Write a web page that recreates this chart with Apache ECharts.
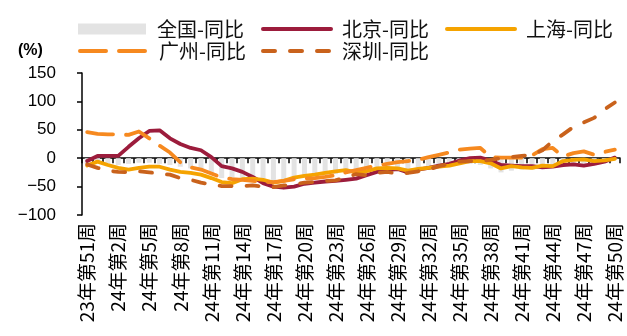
<!DOCTYPE html>
<html>
<head>
<meta charset="utf-8">
<script src="https://cdn.jsdelivr.net/npm/echarts@6/dist/echarts.min.js"></script>
<style>
  html, body { margin: 0; padding: 0; background: #fff; }
  #chart { width: 627px; height: 336px; }
</style>
</head>
<body>
<div id="chart"></div>
<script>
// Weekly categories
const weeks = [
  '23年第51周', '23年第52周', '24年第1周', '24年第2周', '24年第3周', '24年第4周',
  '24年第5周', '24年第6周', '24年第7周', '24年第8周', '24年第9周', '24年第10周',
  '24年第11周', '24年第12周', '24年第13周', '24年第14周', '24年第15周', '24年第16周',
  '24年第17周', '24年第18周', '24年第19周', '24年第20周', '24年第21周', '24年第22周',
  '24年第23周', '24年第24周', '24年第25周', '24年第26周', '24年第27周', '24年第28周',
  '24年第29周', '24年第30周', '24年第31周', '24年第32周', '24年第33周', '24年第34周',
  '24年第35周', '24年第36周', '24年第37周', '24年第38周', '24年第39周', '24年第40周',
  '24年第41周', '24年第42周', '24年第43周', '24年第44周', '24年第45周', '24年第46周',
  '24年第47周', '24年第48周', '24年第49周', '24年第50周'
];

// Year-on-year change, %
const national = [-10, -8, -10, -12, -10, -8, -8, -10, -12, -15,
  -18, -22, -28, -35, -40, -40, -38, -40, -45, -42,
  -38, -35, -32, -30, -28, -26, -25, -25, -22, -20,
  -22, -24, -22, -20, -18, -16, -12, -10, -12, -18,
  -25, -22, -20, -20, -18, -17, -12, -10, -9, -9,
  -7, -3];
const beijing = [-5, 4, 4, 4, 20, 35, 48, 49, 35, 25,
  18, 14, 2, -14, -18, -24, -33, -44, -50, -52,
  -50, -45, -43, -41, -40, -38, -36, -30, -24, -21,
  -19, -25, -20, -17, -13, -10, -4, 0, 1, -4,
  -12, -13, -14, -14, -16, -15, -12, -11, -13, -10,
  -6, 1];
const shanghai = [-13, -6, -12, -17, -20, -17, -15, -15, -20, -24,
  -26, -29, -35, -42, -44, -37, -36, -38, -43, -40,
  -34, -31, -29, -26, -23, -21, -25, -23, -18, -17,
  -18, -22, -19, -17, -15, -13, -9, -5, -5, -9,
  -18, -14, -16, -17, -13, -14, -5, -3, -2, -5,
  -4, -1];
const guangzhou = [46, 43, 42, 42, 41, 47, 35, 22, 10, -7,
  -16, -20, -27, -34, -37, -38, -40, -42, -42, -40,
  -37, -36, -35, -33, -30, -25, -21, -17, -13, -10,
  -7, -5, -3, 2, 6, 10, 15, 17, 18, 2,
  1, 1, 1, 5, 16, 18, 3, 9, 12, 6,
  11, 15];
const shenzhen = [-11, -17, -22, -24, -25, -23, -25, -27, -29, -35,
  -38, -43, -46, -49, -49, -49, -48, -50, -51, -48,
  -46, -43, -42, -40, -39, -34, -28, -30, -26, -24,
  -27, -26, -23, -20, -14, -10, -6, -5, -5, -3,
  0, 2, 4, 6, 14, 30, 42, 55, 63, 71,
  86, 98];

const yTicks = { min: -100, max: 150, step: 50 };

const names = ['全国-同比', '北京-同比', '上海-同比', '广州-同比', '深圳-同比'];
const colors = ['#e3e3e3', '#9c1c3c', '#f5a300', '#f6891f', '#c9621c'];

const chart = echarts.init(document.getElementById('chart'), null, { renderer: 'canvas' });

const cjk = 'Noto Sans CJK SC';
const latin = 'Liberation Sans';

const legendBase = {
  itemWidth: 68,
  itemHeight: 11,
  itemGap: 0,
  padding: 0,
  selectedMode: false,
  textStyle: { fontSize: 20, color: '#111', fontFamily: cjk, padding: [0, 0, 0, 6] }
};
// line legends: show only the stroke, hide the marker in the middle
const lineLegend = Object.assign({}, legendBase, {
  itemStyle: { opacity: 0 },
  lineStyle: { width: 4 }
});

function lineSeries(i, data, dash) {
  return {
    name: names[i],
    type: 'line',
    data: data,
    symbol: 'none',
    z: 3 + i,
    lineStyle: {
      color: colors[i],
      width: 3.8,
      type: dash || 'solid',
      cap: 'round',
      join: 'round'
    },
    itemStyle: { color: colors[i] }
  };
}

chart.setOption({
  animation: false,
  backgroundColor: '#fff',
  title: {
    text: '(%)',
    left: 18,
    top: 43,
    padding: 0,
    textStyle: { fontSize: 16, fontWeight: 'bold', color: '#000', fontFamily: latin }
  },
  legend: [
    Object.assign({}, legendBase, { data: [{ name: names[0], icon: 'rect' }], left: 78, top: 19 }),
    Object.assign({}, lineLegend, { data: [names[1]], left: 261, top: 19 }),
    Object.assign({}, lineLegend, { data: [names[2]], left: 445, top: 19 }),
    Object.assign({}, lineLegend, { data: [names[3]], left: 78, top: 41 }),
    Object.assign({}, lineLegend, { data: [names[4]], left: 261, top: 41 })
  ],
  grid: { left: 82, right: 7, top: 73, bottom: 121, containLabel: false },
  xAxis: [
    {
      type: 'category',
      data: weeks,
      position: 'bottom',
      boundaryGap: true,
      axisLine: { show: false, onZero: false },
      axisTick: { show: false },
      axisLabel: {
        interval: 2,
        rotate: 90,
        margin: 8,
        fontSize: 19,
        color: '#000',
        fontFamily: cjk
      }
    },
    {
      type: 'category',
      data: weeks,
      position: 'bottom',
      boundaryGap: true,
      axisLine: { show: true, onZero: true, lineStyle: { color: '#000', width: 1.5 } },
      axisTick: { show: true, interval: 0, length: 5, lineStyle: { color: '#000', width: 1.5 } },
      axisLabel: { show: false }
    }
  ],
  yAxis: {
    type: 'value',
    min: yTicks.min,
    max: yTicks.max,
    interval: yTicks.step,
    axisLine: { show: true, lineStyle: { color: '#000', width: 1.5 } },
    axisTick: { show: true, length: 5, lineStyle: { color: '#000', width: 1.5 } },
    splitLine: { show: false },
    axisLabel: {
      margin: 26,
      fontSize: 17,
      color: '#000',
      fontFamily: latin,
      formatter: v => (v < 0 ? '\u2212' + Math.abs(v) : String(v))
    }
  },
  series: [
    {
      name: names[0],
      type: 'bar',
      data: national,
      barWidth: 5,
      z: 2,
      itemStyle: { color: colors[0] }
    },
    lineSeries(1, beijing),
    lineSeries(2, shanghai),
    lineSeries(3, guangzhou, [26, 13]),
    lineSeries(4, shenzhen, [12, 15])
  ]
});
</script>
</body>
</html>
